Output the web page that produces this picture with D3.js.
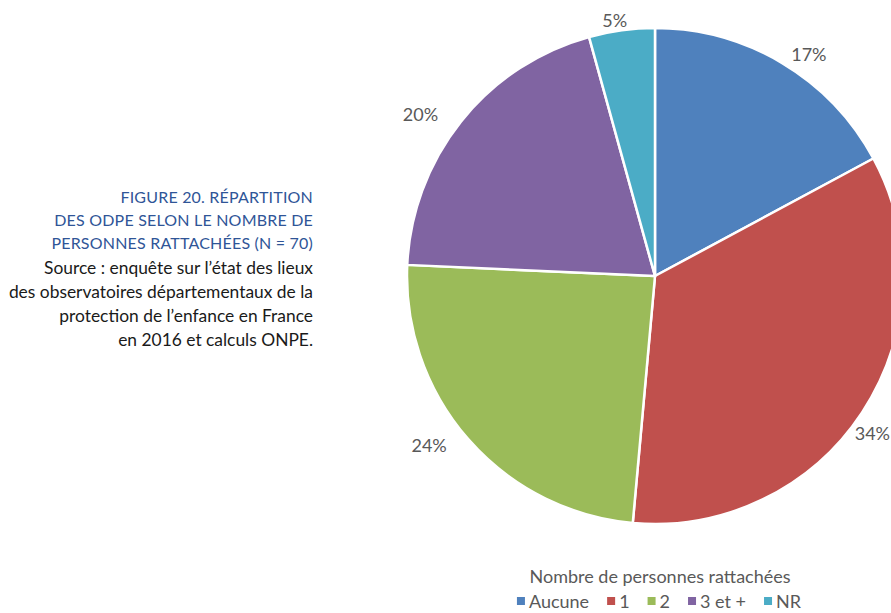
<!DOCTYPE html>
<html>
<head>
<meta charset="utf-8">
<script src="https://cdn.jsdelivr.net/npm/d3@7"></script>
<style>
  body { margin: 0; background: #fff; }
  svg text { font-family: Lato, "Open Sans", sans-serif; }
</style>
</head>
<body>
<svg id="chart" width="891" height="613"></svg>
<script>
'use strict';
(function() {

    // data
    var categories = ['Aucune', '1', '2', '3 et +', 'NR'];
    var counts = [12, 24, 17, 14, 3];   // N = 70
    var percentLabels = ['17%', '34%', '24%', '20%', '5%'];  // as printed in the source
    var colors = ['#4f81bd', '#c0504d', '#9bbb59', '#8064a2', '#4bacc6'];

    var titleLines = ['FIGURE 20. RÉPARTITION', 'DES ODPE SELON LE NOMBRE DE', 'PERSONNES RATTACHÉES (N = 70)'];
    var sourceLines = ['Source : enquête sur l’état des lieux', 'des observatoires départementaux de la',
        'protection de l’enfance en France', 'en 2016 et calculs ONPE.'];
    var legendTitle = 'Nombre de personnes rattachées';

    var W = 891;
    var svg = d3.select('#chart');

    // caption on the left
    var cap = svg.append('g').attr('transform', 'translate(313,0)');
    cap.selectAll('text.title')
        .data(titleLines)
        .enter().append('text')
        .attr('class', 'title')
        .attr('x', 0)
        .attr('y', function(d, i) { return 203 + i * 23; })
        .attr('text-anchor', 'end')
        .attr('fill', '#2f5597')
        .style('font-size', '16px')
        .style('letter-spacing', '0.2px')
        .text(function(d) { return d; });

    cap.selectAll('text.src')
        .data(sourceLines)
        .enter().append('text')
        .attr('class', 'src')
        .attr('x', 0)
        .attr('y', function(d, i) { return 274 + i * 24; })
        .attr('text-anchor', 'end')
        .attr('fill', '#1a1a1a')
        .style('font-size', '17.4px')
        .text(function(d) { return d; });

    // pie
    var cx = 655, cy = 276, radius = 248;
    var labelRx = 300, labelRy = 258, gap = 8;

    var pie = d3.pie().sort(null).value(function(d) { return d; });
    var arc = d3.arc().innerRadius(0).outerRadius(radius);

    var g = svg.append('g').attr('transform', 'translate(' + cx + ',' + cy + ')');
    var arcs = pie(counts);

    g.selectAll('path')
        .data(arcs)
        .enter().append('path')
        .attr('d', arc)
        .attr('fill', function(d, i) { return colors[i]; })
        .attr('stroke', '#fff')
        .attr('stroke-width', 2.5)
        .attr('stroke-linejoin', 'round');

    // labels sit on an ellipse round the pie; one that would leave the frame
    // is pulled back in and slid along the rim until it clears the pie
    g.selectAll('text.lbl')
        .data(arcs)
        .enter().append('text')
        .attr('class', 'lbl')
        .attr('text-anchor', 'middle')
        .attr('dy', '0.35em')
        .attr('fill', '#595959')
        .style('font-size', '18px')
        .text(function(d, i) { return percentLabels[i]; })
        .each(function(d) {
            var a = (d.startAngle + d.endAngle) / 2;
            var w = this.getComputedTextLength();
            var x = labelRx * Math.sin(a);
            var y = -labelRy * Math.cos(a);
            var maxX = W - cx - w / 2 - 1;
            if (x > maxX) {
                x = maxX;
                var edge = x - w / 2 - gap;
                var yy = Math.sqrt(Math.max(0, radius * radius - edge * edge));
                y = (y < 0 ? -1 : 1) * Math.max(Math.abs(y), yy);
            }
            d3.select(this).attr('x', x).attr('y', y);
        });

    // legend
    svg.append('text')
        .attr('x', 660)
        .attr('y', 583)
        .attr('text-anchor', 'middle')
        .attr('fill', '#595959')
        .style('font-size', '18px')
        .text(legendTitle);

    var leg = svg.append('g');
    var items = leg.selectAll('g')
        .data(categories)
        .enter().append('g');
    items.append('rect')
        .attr('width', 8).attr('height', 8)
        .attr('y', -11)
        .attr('fill', function(d, i) { return colors[i]; });
    items.append('text')
        .attr('x', 12)
        .attr('fill', '#595959')
        .style('font-size', '18px')
        .text(function(d) { return d; });

    var xPos = 0;
    items.each(function() {
        var w = this.querySelector('text').getComputedTextLength();
        d3.select(this).attr('transform', 'translate(' + xPos + ',0)');
        xPos += 12 + w + 18;
    });
    var legW = xPos - 18;
    leg.attr('transform', 'translate(' + (659 - legW / 2) + ',608)');

})();
</script>
</body>
</html>
